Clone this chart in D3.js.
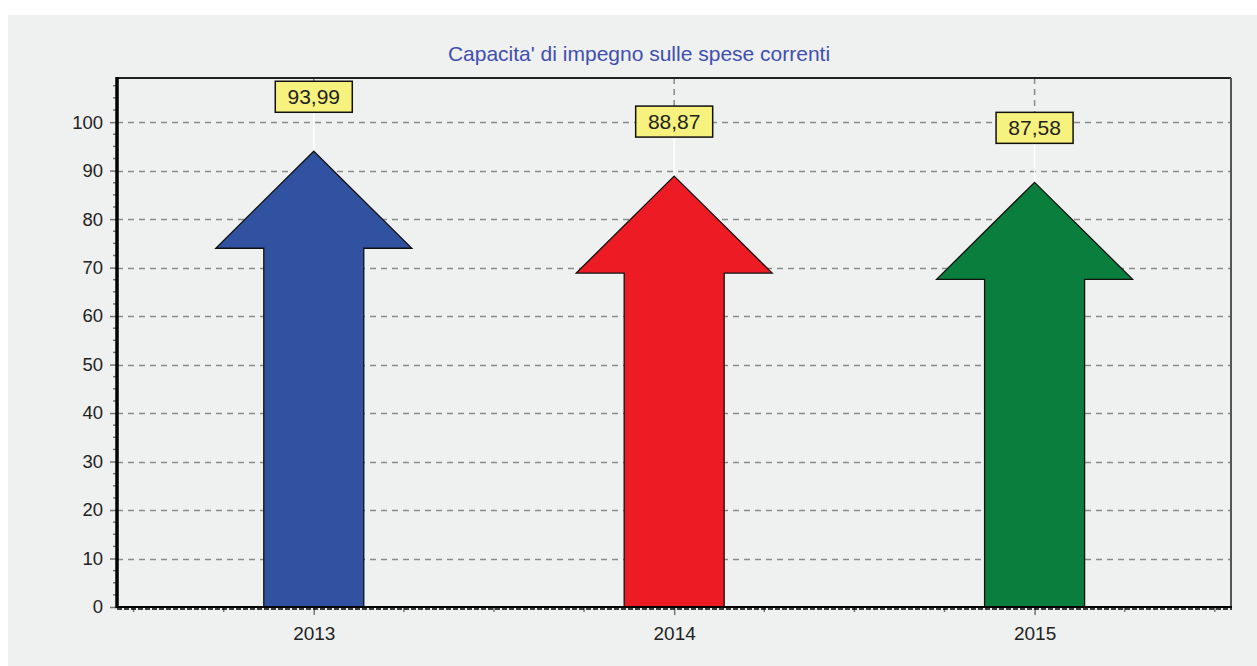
<!DOCTYPE html>
<html>
<head>
<meta charset="utf-8">
<script src="https://cdn.jsdelivr.net/npm/d3@7"></script>
<style>
  body { margin: 0; background: #fff; }
  svg { display: block; font-family: "Liberation Sans", Arial, sans-serif; }
</style>
</head>
<body>
<svg id="chart" width="1257" height="666"></svg>
<script>
const years = [2013, 2014, 2015];
const values = [93.99, 88.87, 87.58];
const labels = ['93,99', '88,87', '87,58'];
const colors = ['#3151a1', '#ed1c24', '#0a7f3d'];
const yTicks = [0, 10, 20, 30, 40, 50, 60, 70, 80, 90, 100];
const title = "Capacita' di impegno sulle spese correnti";

const W = 1257, H = 666;
const plot = { left: 117, top: 78, right: 1231, bottom: 607 };

const svg = d3.select('#chart');

// grey panel
svg.append('rect').attr('x', 8).attr('y', 15).attr('width', W - 8).attr('height', H - 15)
    .attr('fill', '#eff0f0');

const x = d3.scaleLinear().domain([2012.454, 2015.545]).range([plot.left, plot.right]);
const y = d3.scaleLinear().domain([0, 109.1]).range([plot.bottom, plot.top]);

// title
svg.append('text').attr('x', 639).attr('y', 61).attr('text-anchor', 'middle')
    .attr('font-size', 21).attr('fill', '#3f4fae').text(title);

// horizontal grid
svg.append('g').selectAll('line').data(yTicks.filter(d => d > 0)).join('line')
    .attr('x1', plot.left).attr('x2', plot.right)
    .attr('y1', d => Math.round(y(d)) + 0.5).attr('y2', d => Math.round(y(d)) + 0.5)
    .attr('stroke', '#8a8a8a').attr('stroke-width', 1.5).attr('stroke-dasharray', '6,5');

// vertical guides above labels
const headH = 20; // arrow head height in value units
const lblOffset = 54; // px between tip and label centre
svg.append('g').selectAll('line').data(years).join('line')
    .attr('x1', d => x(d)).attr('x2', d => x(d))
    .attr('y1', plot.top).attr('y2', (d, i) => y(values[i]) - lblOffset)
    .attr('stroke', '#8a8a8a').attr('stroke-width', 1.5).attr('stroke-dasharray', '6,5');
svg.append('g').selectAll('line').data(years).join('line')
    .attr('x1', d => x(d)).attr('x2', d => x(d))
    .attr('y1', (d, i) => y(values[i]) - lblOffset).attr('y2', (d, i) => y(values[i]))
    .attr('stroke', '#ffffff').attr('stroke-width', 1.5);

// arrows
const bodyW = 100, headW = 196;
svg.append('g').selectAll('path').data(years).join('path')
    .attr('d', (d, i) => {
        const cx = x(d), tip = y(values[i]), base = y(values[i] - headH), b = y(0);
        return `M${cx},${tip}L${cx + headW / 2},${base}L${cx + bodyW / 2},${base}L${cx + bodyW / 2},${b}` +
            `L${cx - bodyW / 2},${b}L${cx - bodyW / 2},${base}L${cx - headW / 2},${base}Z`;
    })
    .attr('fill', (d, i) => colors[i]).attr('stroke', '#111').attr('stroke-width', 1.3)
    .attr('stroke-linejoin', 'miter');

// value labels
const lbl = svg.append('g').selectAll('g').data(years).join('g')
    .attr('transform', (d, i) => `translate(${x(d)},${y(values[i]) - lblOffset})`);
lbl.append('rect').attr('x', -38.5).attr('y', -16).attr('width', 77).attr('height', 31)
    .attr('fill', '#f7f27e').attr('stroke', '#111').attr('stroke-width', 1.5);
lbl.append('text').attr('text-anchor', 'middle').attr('y', 7).attr('font-size', 21)
    .attr('fill', '#222').text((d, i) => labels[i]);

// frame top/right
svg.append('line').attr('x1', plot.left).attr('x2', plot.right).attr('y1', plot.top).attr('y2', plot.top)
    .attr('stroke', '#222').attr('stroke-width', 2);
svg.append('line').attr('x1', plot.right).attr('x2', plot.right).attr('y1', plot.top).attr('y2', plot.bottom)
    .attr('stroke', '#555').attr('stroke-width', 2);

// y axis
const yAxis = d3.axisLeft(y).tickValues(yTicks).tickSize(7).tickPadding(7);
const gy = svg.append('g').attr('transform', `translate(${plot.left},0)`).call(yAxis);
gy.select('.domain').remove();
gy.selectAll('line').attr('stroke', '#777').attr('stroke-width', 1.5);
gy.selectAll('text').attr('font-size', 18.5).attr('fill', '#222').attr('font-family', 'Liberation Sans, Arial');
// minor ticks
svg.append('g').selectAll('line').data(d3.range(2.5, 109, 2.5).filter(v => v % 10 !== 0)).join('line')
    .attr('x1', plot.left - 4).attr('x2', plot.left)
    .attr('y1', d => y(d)).attr('y2', d => y(d))
    .attr('stroke', '#777').attr('stroke-width', 1.5);
svg.append('line').attr('x1', plot.left).attr('x2', plot.left).attr('y1', plot.top - 1).attr('y2', plot.bottom + 1)
    .attr('stroke', '#000').attr('stroke-width', 3.5);

// x axis
const xAxis = d3.axisBottom(x).tickValues(years).tickFormat(d3.format('d')).tickSize(8).tickPadding(12);
const gx = svg.append('g').attr('transform', `translate(0,${plot.bottom})`).call(xAxis);
gx.select('.domain').remove();
gx.selectAll('line').attr('stroke', '#777').attr('stroke-width', 1.5);
gx.selectAll('text').attr('font-size', 19).attr('fill', '#222').attr('font-family', 'Liberation Sans, Arial');
svg.append('g').selectAll('line')
    .data(d3.range(2012.5, 2015.6, 0.25).filter(v => !years.includes(v))).join('line')
    .attr('x1', d => x(d)).attr('x2', d => x(d))
    .attr('y1', plot.bottom).attr('y2', plot.bottom + 5)
    .attr('stroke', '#777').attr('stroke-width', 1.5);
svg.append('line').attr('x1', plot.left).attr('x2', plot.right + 1).attr('y1', plot.bottom).attr('y2', plot.bottom)
    .attr('stroke', '#000').attr('stroke-width', 2);
svg.append('line').attr('x1', plot.left).attr('x2', plot.right + 1).attr('y1', plot.bottom + 2).attr('y2', plot.bottom + 2)
    .attr('stroke', '#000').attr('stroke-width', 1.5).attr('stroke-dasharray', '5,2');
</script>
</body>
</html>
